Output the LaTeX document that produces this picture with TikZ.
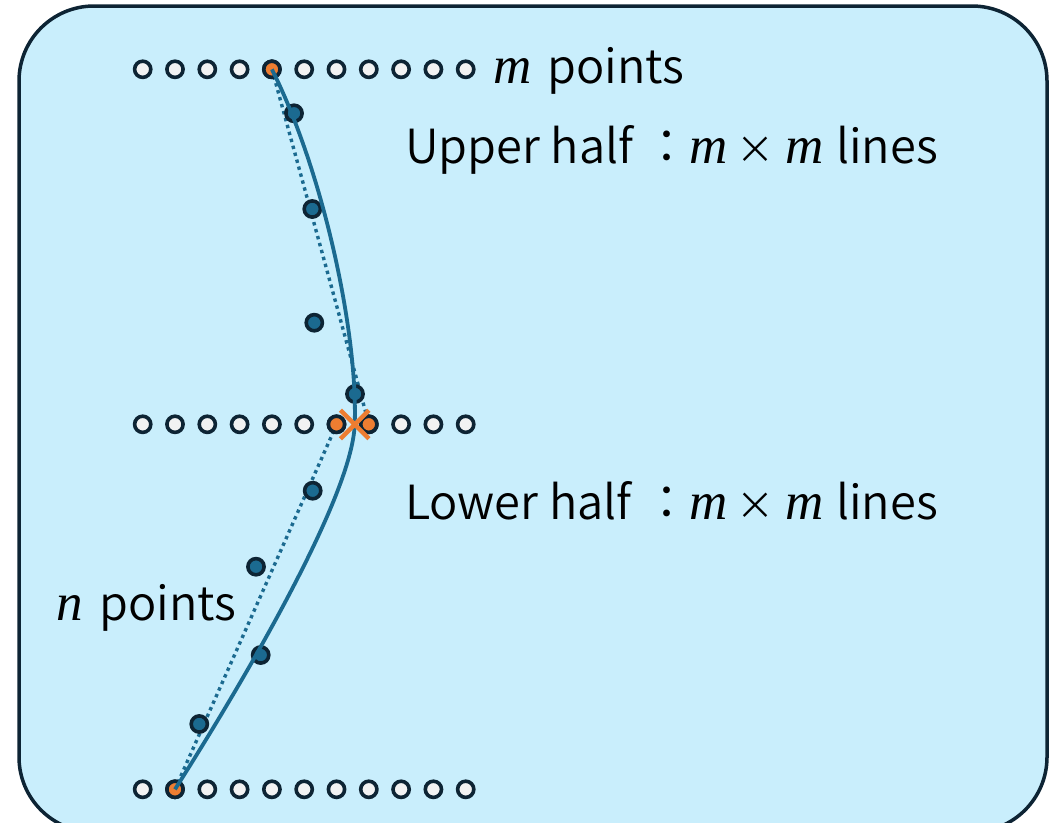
\documentclass[tikz,border=0pt]{standalone}
\usepackage{fontspec}
\setmainfont{Noto Sans CJK JP}[UprightFont={* DemiLight}]
\newfontfamily\mitfont{Liberation Serif}
\newcommand{\vm}{{\fontsize{53}{56}\selectfont\mitfont\itshape m}}
\newcommand{\vn}{{\fontsize{53}{56}\selectfont\mitfont\itshape n}}
\newcommand{\tms}{{\fontsize{38}{40}\selectfont ×}}
\newcommand{\seg}[2]{\makebox[#1pt][l]{#2}}
\usetikzlibrary{shapes.misc}
\definecolor{bgblue}{HTML}{C9EEFC}
\definecolor{darkline}{HTML}{0D2434}
\definecolor{midblue}{HTML}{1B6A90}
\definecolor{orng}{HTML}{ED7D31}
\definecolor{wfill}{HTML}{F2F2F2}
\begin{document}
\begin{tikzpicture}[x=1pt,y=-1pt,
  frame/.style={draw=darkline,line width=3.5pt,fill=bgblue,rounded corners=75pt},
  rowpt/.style={circle,draw=darkline,line width=3.6pt,fill=wfill,minimum size=16.2pt,inner sep=0pt},
  selpt/.style={rowpt,fill=orng},
  datapt/.style={circle,draw=darkline,line width=3.6pt,fill=midblue,minimum size=16.2pt,inner sep=0pt},
  dotline/.style={draw=midblue,line width=3.4pt,dash pattern=on 3.4pt off 3.8pt},
  curveline/.style={draw=midblue,line width=3.8pt},
  crossmark/.style={cross out,draw=orng,line width=4.5pt,minimum size=24pt,inner sep=0pt},
  lbl/.style={anchor=base west,inner sep=0pt,font=\fontsize{47}{56}\selectfont}]
\clip (0,0) rectangle (1056,822);
\fill[white] (0,0) rectangle (1056,822);
\path[frame] (19,6) rectangle (1047,832);

% dotted straight lines (below the points)
\coordinate (tA) at (272,69.3);
\coordinate (mR) at (369,424.3);
\coordinate (mL) at (336.7,424.3);
\coordinate (bA) at (175,789.3);
\draw[dotline] (tA) -- (mR);
\draw[dotline] (bA) -- (mL);

% rows of points
\foreach \i in {0,...,10}{
  \node[rowpt] (t\i) at ({142.7+32.3*\i},69.3) {};
  \node[rowpt] (m\i) at ({142.7+32.3*\i},424.3) {};
  \node[rowpt] (b\i) at ({142.7+32.3*\i},789.3) {};
}
\node[selpt] at (t4) {};
\node[selpt] at (m6) {};
\node[selpt] at (m7) {};
\node[selpt] at (b1) {};

% data points
\node[datapt] (d1) at (294,113.3) {};
\node[datapt] (d2) at (312.3,209) {};
\node[datapt] (d3) at (314.3,322.7) {};
\node[datapt] (d4) at (355,394) {};
\node[datapt] (d5) at (312.7,490.7) {};
\node[datapt] (d6) at (256,566.7) {};
\node[datapt] (d7) at (260.7,655) {};
\node[datapt] (d8) at (199.3,724) {};

% fitted curve
\coordinate (X) at (354.7,424.5);
\draw[curveline] (t4.center) .. controls (322,169) and (358,330) .. (X)
  .. controls (352,500) and (235,695) .. (b1.center);

\node[crossmark] (cx) at (X) {};

% labels
\node[lbl] (lm) at (493,83.3) {\seg{54}{\vm}points};
\node[lbl] (lu) at (405,163.3) {\seg{238}{Upper half}\seg{46}{：}\seg{53}{\vm}\seg{43}{\hspace*{-6pt}\tms}\seg{51}{\vm}lines};
\node[lbl] (ll) at (405,519.3) {\seg{238}{Lower half}\seg{46}{：}\seg{53}{\vm}\seg{43}{\hspace*{-6pt}\tms}\seg{51}{\vm}lines};
\node[lbl] (ln) at (56,620) {\seg{43}{\vn}points};
\end{tikzpicture}
\end{document}
